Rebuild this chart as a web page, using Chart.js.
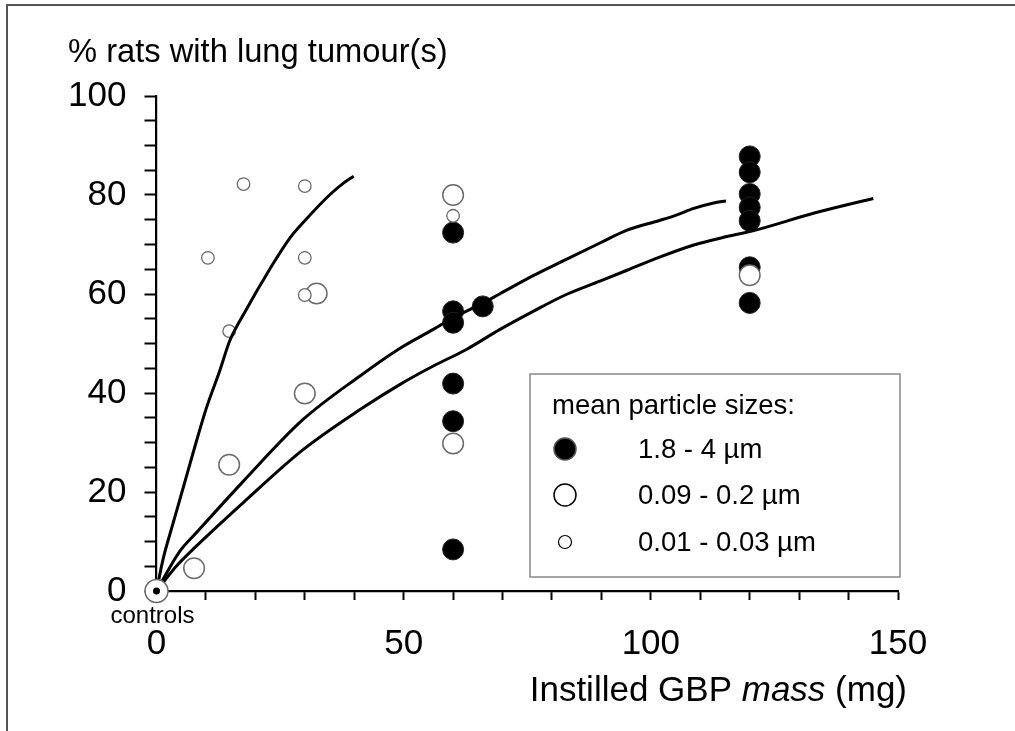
<!DOCTYPE html>
<html>
<head>
<meta charset="utf-8">
<script src="https://cdn.jsdelivr.net/npm/chart.js@4/dist/chart.umd.min.js"></script>
<style>
  html, body { margin: 0; padding: 0; background: #fff; }
  canvas { display: block; }
</style>
</head>
<body>
<canvas id="c" width="1015" height="731"></canvas>
<script>
// ---------- data ----------
// coarse particles 1.8 - 4 µm (filled)
const massCoarse  = [60, 60, 60, 60, 60, 60, 66, 120, 120, 120, 120, 120, 120, 120];
const tumourCoarse = [72.4, 56.5, 54.2, 41.9, 34.3, 8.4, 57.5, 87.8, 84.6, 80.2, 77.5, 74.8, 65.4, 58.2];
// fine particles 0.09 - 0.2 µm (large open)
const massFine   = [32.4, 30, 14.7, 7.6, 60, 60, 120];
const tumourFine = [60.1, 39.9, 25.5, 4.6, 80.0, 29.8, 63.8];
// ultrafine particles 0.01 - 0.03 µm (small open)
const massUltra   = [10.4, 17.6, 30, 30, 30, 14.7, 60];
const tumourUltra = [67.3, 82.2, 81.8, 67.3, 59.8, 52.5, 75.8];
// controls
const massControls = [0];
const tumourControls = [0];
// fitted curves
const curveUltraX = [0, 1.3, 3.3, 5.3, 8, 10.1, 12.8, 14.8, 17.8, 22.9, 26.9, 30, 35, 37.7, 39.9];
const curveUltraY = [0, 6.3, 13.5, 20.5, 30, 37, 44.5, 50.5, 56.2, 65, 71.2, 74.8, 80, 82.3, 83.8];
const curveFineX = [0, 4.7, 8, 17.5, 29.6, 41.1, 49.2, 55.9, 60, 65.7, 69.4, 76.2, 82.9, 89.7, 95.2, 101.9, 105.3, 108.7, 112.7, 115.2];
const curveFineY = [0, 8, 11.7, 22.1, 34.6, 43.4, 49, 52.8, 55.2, 58, 60, 63.7, 67, 70.3, 72.9, 74.9, 76, 77.3, 78.4, 78.8];
const curveCoarseX = [0, 4, 8, 17.5, 29.6, 41.1, 49.2, 55.9, 62.7, 69.4, 76.2, 82.9, 89.7, 95.2, 101.9, 108.7, 115.4, 120.8, 132.9, 145];
const curveCoarseY = [0, 5, 9, 17.8, 28.5, 36.6, 41.7, 45.4, 48.8, 52.8, 56.5, 59.9, 62.6, 64.8, 67.5, 69.9, 71.6, 72.8, 76.3, 79.3];
// ticks
const xTickValues = [0, 10, 20, 30, 40, 50, 60, 70, 80, 90, 100, 110, 120, 130, 140, 150];
const xTickLabelValues = [0, 50, 100, 150];
const xTickLabels = ['0', '50', '100', '150'];
const yTickValues = [0, 5, 10, 15, 20, 25, 30, 35, 40, 45, 50, 55, 60, 65, 70, 75, 80, 85, 90, 95, 100];
const yTickLabelValues = [0, 20, 40, 60, 80, 100];
const yTickLabels = ['0', '20', '40', '60', '80', '100'];
// texts
const yTitle = '% rats with lung tumour(s)';
const xTitleParts = ['Instilled GBP ', 'mass', ' (mg)'];
const controlsLabel = 'controls';
const legendTitle = 'mean particle sizes:';
const legendLabels = ['1.8 - 4 µm', '0.09 - 0.2 µm', '0.01 - 0.03 µm'];

// ---------- build ----------
const FONT = "'Liberation Sans', Arial, Helvetica, sans-serif";
const zip = (xs, ys) => xs.map((x, i) => ({x, y: ys[i]}));

const styleCoarse = {pointRadius: 10.5, pointBackgroundColor: '#000', pointBorderColor: '#222', pointBorderWidth: 1};
const styleFine = {pointRadius: 10.3, pointBackgroundColor: '#fff', pointBorderColor: '#6a6a6a', pointBorderWidth: 1.5};
const styleUltra = {pointRadius: 6.3, pointBackgroundColor: '#fff', pointBorderColor: '#6a6a6a', pointBorderWidth: 1.3};

const lineDs = (xs, ys) => ({
  data: zip(xs, ys), showLine: true, pointRadius: 0, borderColor: '#000',
  borderWidth: 3, cubicInterpolationMode: 'monotone', fill: false, clip: false, order: 1
});

const decor = {
  id: 'decor',
  beforeDraw(chart) {
    const ctx = chart.ctx;
    ctx.save();
    ctx.fillStyle = '#fff';
    ctx.fillRect(0, 0, chart.width, chart.height);
    ctx.strokeStyle = '#555';
    ctx.lineWidth = 2;
    ctx.beginPath();
    ctx.moveTo(7, chart.height);
    ctx.lineTo(7, 5);
    ctx.lineTo(chart.width, 5);
    ctx.stroke();
    ctx.restore();
  },
  afterDraw(chart) {
    const ctx = chart.ctx;
    const xs = chart.scales.x;
    ctx.save();
    ctx.fillStyle = '#000';
    ctx.textBaseline = 'alphabetic';
    // y title
    ctx.font = `32.7px ${FONT}`;
    ctx.textAlign = 'left';
    ctx.fillText(yTitle, 68, 62);
    // controls label
    ctx.font = `24px ${FONT}`;
    ctx.textAlign = 'center';
    ctx.fillText(controlsLabel, xs.getPixelForValue(0) - 4, 623);
    // x title (mixed italic)
    const f1 = `35px ${FONT}`, f2 = `italic 35px ${FONT}`;
    ctx.font = f1; const w1 = ctx.measureText(xTitleParts[0]).width;
    ctx.font = f2; const w2 = ctx.measureText(xTitleParts[1]).width;
    ctx.font = f1; const w3 = ctx.measureText(xTitleParts[2]).width;
    let tx = 907 - (w1 + w2 + w3);
    const ty = 701;
    ctx.textAlign = 'left';
    ctx.font = f1; ctx.fillText(xTitleParts[0], tx, ty); tx += w1;
    ctx.font = f2; ctx.fillText(xTitleParts[1], tx, ty); tx += w2;
    ctx.font = f1; ctx.fillText(xTitleParts[2], tx, ty);
    // legend box
    const L = 530, T = 374, R = 900, B = 577;
    ctx.fillStyle = '#fff';
    ctx.fillRect(L, T, R - L, B - T);
    ctx.strokeStyle = '#888';
    ctx.lineWidth = 1.5;
    ctx.strokeRect(L, T, R - L, B - T);
    ctx.fillStyle = '#000';
    ctx.font = `27.5px ${FONT}`;
    ctx.textAlign = 'left';
    ctx.textBaseline = 'middle';
    ctx.fillText(legendTitle, 552, 406);
    const rows = [449, 495, 542];
    const marks = [
      {r: 11, fill: '#000', stroke: '#555', lw: 1.5},
      {r: 11, fill: '#fff', stroke: '#000', lw: 1.5},
      {r: 6.5, fill: '#fff', stroke: '#000', lw: 1.2}
    ];
    rows.forEach((y, i) => {
      const m = marks[i];
      ctx.beginPath();
      ctx.arc(565, y, m.r, 0, Math.PI * 2);
      ctx.fillStyle = m.fill; ctx.fill();
      ctx.strokeStyle = m.stroke; ctx.lineWidth = m.lw; ctx.stroke();
      ctx.fillStyle = '#000';
      ctx.fillText(legendLabels[i], 638, y + 1);
    });
    ctx.restore();
  }
};

new Chart(document.getElementById('c'), {
  type: 'scatter',
  data: {
    datasets: [
      {data: zip(massControls, tumourControls), pointRadius: 11.5, pointBackgroundColor: '#fff', pointBorderColor: '#6a6a6a', pointBorderWidth: 1.5, clip: false, order: 0},
      {data: zip(massControls, tumourControls), pointRadius: 3.5, pointBackgroundColor: '#000', pointBorderColor: '#000', pointBorderWidth: 0, clip: false, order: -1},
      Object.assign({data: zip(massUltra, tumourUltra), clip: false, order: 2}, styleUltra),
      Object.assign({data: zip(massFine, tumourFine), clip: false, order: 3}, styleFine),
      Object.assign({data: zip(massCoarse, tumourCoarse), clip: false, order: 4}, styleCoarse),
      lineDs(curveUltraX, curveUltraY),
      lineDs(curveFineX, curveFineY),
      lineDs(curveCoarseX, curveCoarseY)
    ]
  },
  options: {
    responsive: false,
    animation: false,
    devicePixelRatio: 1,
    events: [],
    layout: {padding: {left: 0, right: 117, top: 96, bottom: 0}},
    plugins: {legend: {display: false}, tooltip: {enabled: false}, title: {display: false}},
    scales: {
      x: {
        type: 'linear', min: 0, max: 150,
        afterBuildTicks(s) { s.ticks = xTickValues.map(v => ({value: v})); },
        afterFit(s) { s.height = 140; },
        grid: {drawOnChartArea: false, drawTicks: true, tickLength: 9, tickColor: '#000', tickWidth: 2},
        border: {color: '#000', width: 2.2},
        ticks: {
          autoSkip: false, maxRotation: 0, minRotation: 0, padding: 23, color: '#000',
          font: {family: FONT, size: 35},
          callback(v) { const i = xTickLabelValues.indexOf(v); return i >= 0 ? xTickLabels[i] : ''; }
        }
      },
      y: {
        type: 'linear', min: 0, max: 100,
        afterBuildTicks(s) { s.ticks = yTickValues.map(v => ({value: v})); },
        afterFit(s) { s.width = 156.5; },
        grid: {drawOnChartArea: false, drawTicks: true, tickLength: 12, tickColor: '#000', tickWidth: 2},
        border: {color: '#000', width: 2.2},
        ticks: {
          autoSkip: false, padding: 18, color: '#000',
          font: {family: FONT, size: 35},
          callback(v) { const i = yTickLabelValues.indexOf(v); return i >= 0 ? yTickLabels[i] : ''; }
        }
      }
    }
  },
  plugins: [decor]
});
</script>
</body>
</html>
